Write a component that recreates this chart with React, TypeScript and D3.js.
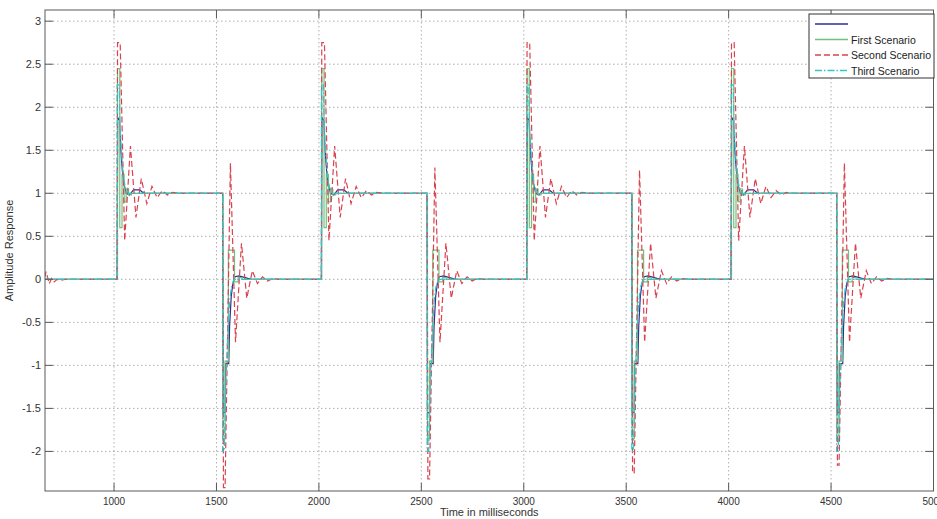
import React from "react";
import * as d3 from "d3";

const W = 937;
const H = 519;

// axis ticks
const xTicks = [1000, 1500, 2000, 2500, 3000, 3500, 4000, 4500, 5000];
const yTicks = [-2, -1.5, -1, -0.5, 0, 0.5, 1, 1.5, 2, 2.5, 3];
const xDomain = [663, 5000];
const yDomain = [-2.46, 3.13];

// edge times (ms)
const riseTimes = [1015, 2012, 3014, 4012];
const fallTimes = [1530, 2528, 3527, 4527];

// series names / legend
const seriesNames = ["", "First Scenario", "Second Scenario", "Third Scenario"];

// responses: [offset ms after edge, amplitude]
const navyRise: [number, number][] = [[0, 0], [3, 1.88], [12, 1.85], [18, 1.5], [26, 1.25], [34, 1.1], [45, 1.0], [60, 0.98], [80, 1.04], [110, 1.04], [130, 1.0]];
const navyFall: [number, number][] = [[0, 1], [2, -1.55], [12, -1.55], [14, -0.98], [30, -0.98], [34, -0.55], [42, -0.2], [50, -0.05], [60, 0.03], [80, 0.04], [110, 0.02], [140, 0]];

const greenRise: [number, number][] = [[0, 0], [2, 0], [2, 2.45], [13, 2.45], [13, 0.6], [24, 0.6], [24, 1.22], [34, 1.22], [34, 0.9], [44, 0.9], [44, 1.05], [56, 1.05], [56, 0.98], [70, 0.98], [70, 1.0]];
const greenFall: [number, number][] = [[0, 1], [2, 1], [2, -1.85], [12, -1.85], [12, -0.95], [28, -0.95], [28, 0.34], [58, 0.34], [58, -0.03], [76, -0.03], [76, 0.02], [95, 0.02], [95, 0]];

const redInitial: [number, number][] = [[663, 0.03], [668, 0.09], [676, 0.02], [684, -0.05], [695, 0.01], [708, -0.03], [722, 0.0], [740, -0.01], [760, 0]];
const redRise: [number, number][] = [[0, 0], [2, 2.75], [15, 2.75], [37, 0.45], [65, 1.55], [92, 0.72], [118, 1.17], [145, 0.88], [170, 1.08], [195, 0.95], [220, 1.03], [245, 0.98], [270, 1.01], [300, 1.0]];
const redFallMin = [-2.42, -2.32, -2.25, -2.16];
const redFallMax = [1.35, 1.3, 1.27, 1.35];
const redFallTail: [number, number][] = [[63, -0.73], [92, 0.42], [118, -0.22], [145, 0.1], [170, -0.05], [195, 0.03], [220, -0.02], [245, 0.01], [275, 0]];

const cyanRise: [number, number][] = [[0, 0], [0, 2.26], [10, 2.26], [14, 1.8], [22, 1.45], [30, 1.2], [40, 1.07], [55, 1.0]];
const cyanFall: [number, number][] = [[0, 1], [0, -2.0], [8, -2.0], [15, -1.3], [24, -0.7], [33, -0.3], [42, -0.1], [55, 0]];

const colors = ["#2e2e94", "#72c07e", "#d9434f", "#33c6c8"];
const dashes = ["", "", "6,3", "7,2,1.5,2"];

function build(
  initial: [number, number][],
  rise: (i: number) => [number, number][],
  fall: (i: number) => [number, number][]
): [number, number][] {
  const pts: [number, number][] = initial.length ? [...initial] : [[xDomain[0], 0]];
  riseTimes.forEach((rt, i) => {
    rise(i).forEach(([o, v]) => pts.push([rt + o, v]));
    fall(i).forEach(([o, v]) => pts.push([fallTimes[i] + o, v]));
  });
  pts.push([xDomain[1], 0]);
  return pts;
}

const seriesData: [number, number][][] = [
  build([], () => navyRise, () => navyFall),
  build([], () => greenRise, () => greenFall),
  build(redInitial, () => redRise, (i) => [
    [0, 1],
    [4, redFallMin[i]],
    [12, redFallMin[i]],
    [38, redFallMax[i]],
    ...redFallTail,
  ]),
  build([], () => cyanRise, () => cyanFall),
];

export default function App() {
  const m = { left: 45, right: 933.5, top: 10, bottom: 491 };
  const x = d3.scaleLinear().domain(xDomain).range([m.left, m.right]);
  const y = d3.scaleLinear().domain(yDomain).range([m.bottom, m.top]);
  const line = d3
    .line<[number, number]>()
    .x((d) => x(d[0]))
    .y((d) => y(d[1]));
  const font = "'Liberation Sans', Arial, Helvetica, sans-serif";
  const tickLen = 8;
  const frameColor = "#5a5a5a";
  const gridColor = "#9a9a9a";

  const legend = { x0: 809, y0: 14, x1: 934, y1: 78 };
  const rowY = [24, 39.5, 55, 70.5];

  return (
    <svg
      width={W}
      height={H}
      style={{ position: "absolute", left: 0, top: 0, background: "#fff" }}
      fontFamily={font}
    >
      <defs>
        <clipPath id="plotClip">
          <rect x={m.left} y={m.top} width={m.right - m.left} height={m.bottom - m.top} />
        </clipPath>
      </defs>
      <rect x={0} y={0} width={W} height={H} fill="#fff" />
      {/* grid */}
      {xTicks.map((t) => (
        <line key={"gx" + t} x1={x(t)} x2={x(t)} y1={m.top} y2={m.bottom} stroke={gridColor} strokeWidth={0.8} strokeDasharray="1.5,2.5" />
      ))}
      {yTicks.map((t) => (
        <line key={"gy" + t} x1={m.left} x2={m.right} y1={y(t)} y2={y(t)} stroke={gridColor} strokeWidth={0.8} strokeDasharray="1.5,2.5" />
      ))}
      {/* series */}
      <g clipPath="url(#plotClip)">
        {seriesData.map((d, i) => (
          <path key={"s" + i} d={line(d) || ""} fill="none" stroke={colors[i]} strokeWidth={1.2} strokeDasharray={dashes[i] || undefined} />
        ))}
      </g>
      {/* frame */}
      <rect x={m.left} y={m.top} width={m.right - m.left} height={m.bottom - m.top} fill="none" stroke={frameColor} strokeWidth={1} />
      {/* ticks */}
      {xTicks.map((t) => (
        <g key={"tx" + t}>
          <line x1={x(t)} x2={x(t)} y1={m.bottom} y2={m.bottom - tickLen} stroke={frameColor} />
          <line x1={x(t)} x2={x(t)} y1={m.top} y2={m.top + tickLen} stroke={frameColor} />
          <text x={x(t)} y={m.bottom + 14} fontSize={10} textAnchor="middle" fill="#333">
            {t}
          </text>
        </g>
      ))}
      {yTicks.map((t) => (
        <g key={"ty" + t}>
          <line x1={m.left} x2={m.left + tickLen} y1={y(t)} y2={y(t)} stroke={frameColor} />
          <line x1={m.right} x2={m.right - tickLen} y1={y(t)} y2={y(t)} stroke={frameColor} />
          <text x={41} y={y(t) + 4} fontSize={11} textAnchor="end" fill="#333">
            {t}
          </text>
        </g>
      ))}
      {/* axis labels */}
      <text x={(m.left + m.right) / 2} y={516} fontSize={11} textAnchor="middle" fill="#333">
        Time in milliseconds
      </text>
      <text transform={`translate(13,${(m.top + m.bottom) / 2}) rotate(-90)`} fontSize={11} textAnchor="middle" fill="#333">
        Amplitude Response
      </text>
      {/* legend */}
      <rect x={legend.x0} y={legend.y0} width={legend.x1 - legend.x0} height={legend.y1 - legend.y0} fill="#fff" stroke="#333" strokeWidth={1} />
      {seriesNames.map((n, i) => (
        <g key={"lg" + i}>
          <line x1={815} x2={848} y1={rowY[i]} y2={rowY[i]} stroke={colors[i]} strokeWidth={1.4} strokeDasharray={dashes[i] || undefined} />
          <text x={851} y={rowY[i] + 4} fontSize={10.5} fill="#222">
            {n}
          </text>
        </g>
      ))}
    </svg>
  );
}
